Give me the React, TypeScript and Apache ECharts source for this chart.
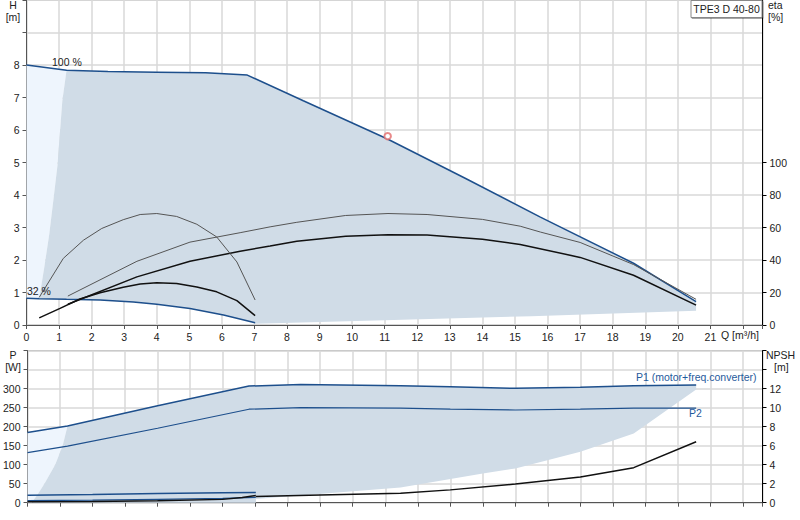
import React, { useEffect, useRef } from 'react';
import * as echarts from 'echarts';

// Q-H: pump curves [Q m³/h, H m]
const head100 = [[0, 8.0], [1.23, 7.84], [2.5, 7.8], [4, 7.78], [5.5, 7.76], [6.78, 7.69], [8.5, 6.9], [11.07, 5.73], [13.5, 4.5], [15.78, 3.32], [18.64, 1.9], [20.56, 0.72]];
const head32 = [[0, 0.82], [0.39, 0.81], [1.23, 0.79], [2.26, 0.77], [3.28, 0.71], [4.0, 0.64], [5.02, 0.51], [6.05, 0.31], [7.02, 0.07]];
// limits of the operating range
const rangeLeftH = [[1.23, 7.84], [1.1, 6.9], [0.95, 4.9], [0.82, 3.8], [0.7, 2.8], [0.55, 1.8], [0.39, 0.81]];
const rangeBottomH = [[7.02, 0.04], [11, 0.15], [15.5, 0.27], [20.56, 0.44]];

// efficiency [Q, eta %]
const etaPumpMax = [[1.27, 17.8], [3.39, 39.2], [5.02, 51], [6.56, 56.8], [7.48, 60.4], [8.3, 63.2], [9.8, 67.4], [11.1, 68.6], [12.3, 68], [14, 65], [15.16, 60.8], [15.78, 57.2], [17.0, 50.8], [18.64, 37.2], [20.56, 15.8]];
const etaTotalMax = [[1.27, 12.8], [3.39, 29.6], [5.02, 39.2], [6.56, 45.4], [7.48, 48.6], [8.3, 51.6], [9.8, 54.6], [11.1, 55.6], [12.3, 55.4], [14, 52.8], [15.16, 49.6], [17.0, 41.6], [18.64, 30.6], [20.56, 12.2]];
const etaPumpMin = [[0.39, 17], [1.13, 41], [1.75, 52.2], [2.31, 59.4], [2.97, 64.8], [3.49, 68], [4.0, 68.6], [4.61, 66.8], [5.23, 62], [5.84, 54.2], [6.46, 38.8], [7.02, 15.4]];
const etaTotalMin = [[0.39, 4.4], [1.03, 10.2], [1.64, 16], [2.26, 19.8], [2.97, 23.2], [3.49, 25.2], [4.0, 26], [4.61, 25.6], [5.23, 23.4], [5.84, 20.4], [6.46, 15], [7.02, 5.8]];

const dutyPoint = [[11.09, 5.81]];

// power [Q, P W]
const p1Max = [[0, 185], [1.23, 202], [4, 255], [6.81, 307], [8.4, 311], [11.47, 308], [13, 305], [15, 301], [17, 304], [18.64, 308], [20.56, 310]];
const p2Max = [[0, 132], [1.23, 149], [4, 196], [6.81, 246], [8.4, 250], [11.47, 249], [13, 246], [15, 244], [17, 246], [18.64, 249], [20.56, 249]];
const p1Min = [[0, 19.5], [2, 21.5], [4, 24], [6, 26.5], [7.02, 27]];
const p2Min = [[0, 5.3], [2, 7], [4, 9], [6, 11.5], [7.02, 14]];
const rangeLeftP = [[1.23, 202], [1.08, 150], [0.85, 100], [0.52, 50], [0.3, 20], [0.15, 3], [0.15, 0]];
const rangeBottomP = [[7.02, 0], [7.02, 10], [11.47, 40], [14, 77], [15, 90], [17, 134], [18.64, 182], [20.56, 298]];

// NPSH [Q, m]
const npshMax = [[7.02, 0.65], [9, 0.8], [11.47, 0.99], [13, 1.35], [15, 1.97], [17, 2.7], [18.64, 3.69], [20.56, 6.42]];
const npshMin = [[0, 0.1], [2, 0.12], [4, 0.2], [6, 0.35], [6.6, 0.55], [7.02, 0.75]];

const etaTickValues = [0, 20, 40, 60, 80, 100];

const FONT = 'Liberation Sans, Arial, sans-serif';
const BLUE = '#1d4f8c';
const DARK_FILL = '#d0dce7';
const LIGHT_FILL = '#eef5fd';

const darkTop = [
  ...rangeLeftH,
  ...head32.filter(p => p[0] > 0.39),
  ...rangeBottomH,
  ...head100.filter(p => p[0] > 1.23).reverse(),
];
const lightTop = [
  ...head100.filter(p => p[0] <= 1.23),
  ...rangeLeftH.slice(1),
  ...head32.filter(p => p[0] < 0.39).reverse(),
];
const darkBottom = [
  ...rangeLeftP,
  ...rangeBottomP,
  ...p1Max.filter(p => p[0] > 1.23).reverse(),
];
const lightBottom = [
  ...p1Max.filter(p => p[0] <= 1.23),
  ...rangeLeftP.slice(1),
  [0, 0],
];

const polySeries = (points: number[][], fill: string, xi: number, yi: number) => ({
  type: 'custom',
  xAxisIndex: xi,
  yAxisIndex: yi,
  silent: true,
  z: 1,
  data: [[0, 0]],
  renderItem: (_p: any, api: any) => ({
    type: 'polygon',
    shape: { points: points.map(pt => api.coord(pt)) },
    style: { fill },
  }),
});

const lineSeries = (data: number[][], color: string, width: number, xi: number, yi: number) => ({
  type: 'line',
  xAxisIndex: xi,
  yAxisIndex: yi,
  data,
  showSymbol: false,
  symbol: 'none',
  silent: true,
  z: 3,
  lineStyle: { color, width },
});

const axisText = { color: '#222', fontSize: 10.5, fontFamily: FONT };
const gridLine = { show: true, lineStyle: { color: '#d9d9d9', width: 1.5 } };

const txt = (text: string, x: number, y: number, align = 'left', fill = '#222') => ({
  type: 'text',
  x,
  y,
  z: 10,
  style: { text, fill, font: `10.5px ${FONT}`, align, verticalAlign: 'middle' },
});

const App: React.FC = () => {
  const chartRef = useRef<HTMLDivElement>(null);

  useEffect(() => {
    document.body.style.margin = '0';
    if (!chartRef.current) return;
    const chart = echarts.init(chartRef.current, null, { renderer: 'svg' });

    const xAxisBase = {
      type: 'value',
      min: 0,
      max: 22.6,
      interval: 1,
      axisLine: { lineStyle: { color: '#555', width: 1 } },
      axisTick: { show: true, length: 4, lineStyle: { color: '#555' } },
      splitLine: gridLine,
    };

    chart.setOption({
      animation: false,
      backgroundColor: '#fff',
      grid: [
        { left: 26.5, right: 37.5, top: 0, height: 325, show: true, borderColor: '#999', borderWidth: 1 },
        { left: 26.5, right: 37.5, top: 350.7, height: 152, show: true, borderColor: '#888', borderWidth: 1 },
      ],
      xAxis: [
        {
          ...xAxisBase,
          gridIndex: 0,
          axisLabel: { ...axisText, margin: 6, formatter: (v: number) => (v <= 21 ? String(v) : '') },
        },
        { ...xAxisBase, gridIndex: 1, axisLabel: { show: false } },
      ],
      yAxis: [
        {
          type: 'value', gridIndex: 0, min: 0, max: 10, interval: 1,
          axisLine: { show: true, lineStyle: { color: '#555' } },
          axisTick: { show: true, length: 4, lineStyle: { color: '#555' } },
          axisLabel: { ...axisText, margin: 7, formatter: (v: number) => (v <= 8 ? String(v) : '') },
          splitLine: gridLine,
        },
        {
          type: 'value', gridIndex: 0, position: 'right', min: 0, max: 200, interval: 20,
          axisLine: { show: true, lineStyle: { color: '#000' } },
          axisTick: { show: true, length: 4, lineStyle: { color: '#000' }, customValues: etaTickValues },
          axisLabel: { ...axisText, margin: 7, customValues: etaTickValues, formatter: (v: number) => (v <= 100 ? String(v) : '') },
          splitLine: { show: false },
        },
        {
          type: 'value', gridIndex: 1, min: 0, max: 400, interval: 50,
          axisLine: { show: true, lineStyle: { color: '#555' } },
          axisTick: { show: true, length: 4, lineStyle: { color: '#555' } },
          axisLabel: { ...axisText, margin: 7, formatter: (v: number) => (v <= 300 ? String(v) : '') },
          splitLine: gridLine,
        },
        {
          type: 'value', gridIndex: 1, position: 'right', min: 0, max: 16, interval: 2,
          axisLine: { show: true, lineStyle: { color: '#000' } },
          axisTick: { show: true, length: 4, lineStyle: { color: '#000' } },
          axisLabel: { ...axisText, margin: 7, formatter: (v: number) => (v <= 12 ? String(v) : '') },
          splitLine: { show: false },
        },
      ],
      series: [
        polySeries(lightTop, LIGHT_FILL, 0, 0),
        polySeries(darkTop, DARK_FILL, 0, 0),
        polySeries(lightBottom, LIGHT_FILL, 1, 2),
        polySeries(darkBottom, DARK_FILL, 1, 2),
        lineSeries(head100, BLUE, 1.5, 0, 0),
        lineSeries(head32, BLUE, 1.5, 0, 0),
        lineSeries(etaPumpMax, '#555', 1, 0, 1),
        lineSeries(etaTotalMax, '#111', 1.5, 0, 1),
        lineSeries(etaPumpMin, '#555', 1, 0, 1),
        lineSeries(etaTotalMin, '#111', 1.5, 0, 1),
        {
          type: 'scatter',
          xAxisIndex: 0,
          yAxisIndex: 0,
          data: dutyPoint,
          symbol: 'emptyCircle',
          symbolSize: 6.5,
          silent: true,
          z: 5,
          itemStyle: { color: '#e46b6b', borderWidth: 1 },
        },
        lineSeries(p1Max, BLUE, 1.5, 1, 2),
        lineSeries(p2Max, BLUE, 1.2, 1, 2),
        lineSeries(p1Min, BLUE, 1.5, 1, 2),
        lineSeries(p2Min, BLUE, 1.2, 1, 2),
        lineSeries(npshMax, '#111', 1.5, 1, 3),
        lineSeries(npshMin, '#111', 1.5, 1, 3),
      ],
      graphic: [
        txt('H', 13, 5, 'center'),
        txt('[m]', 13, 17, 'center'),
        txt('eta', 768, 5),
        txt('[%]', 768, 17),
        txt('Q [m³/h]', 721, 335),
        txt('100 %', 52, 62),
        txt('32 %', 27, 291),
        txt('P', 13, 355, 'center'),
        txt('[W]', 13, 367, 'center'),
        txt('NPSH', 766, 355),
        txt('[m]', 774, 367),
        txt('P1 (motor+freq.converter)', 636, 377, 'left', '#1f5a9c'),
        txt('P2', 689, 413, 'left', '#1f5a9c'),
        {
          type: 'rect',
          z: 10,
          shape: { x: 691, y: 0.5, width: 71, height: 17 },
          style: { fill: '#fff', stroke: '#888', lineWidth: 1, shadowColor: 'rgba(0,0,0,0.35)', shadowOffsetX: 1, shadowOffsetY: 1, shadowBlur: 1 },
        },
        txt('TPE3 D 40-80', 726.5, 9, 'center'),
      ],
    });

    return () => {
      chart.dispose();
    };
  }, []);

  return (
    <div style={{ position: 'absolute', left: 0, top: 0, width: 800, height: 520 }}>
      <div ref={chartRef} style={{ width: '800px', height: '520px' }}></div>
    </div>
  );
};

export default App;
